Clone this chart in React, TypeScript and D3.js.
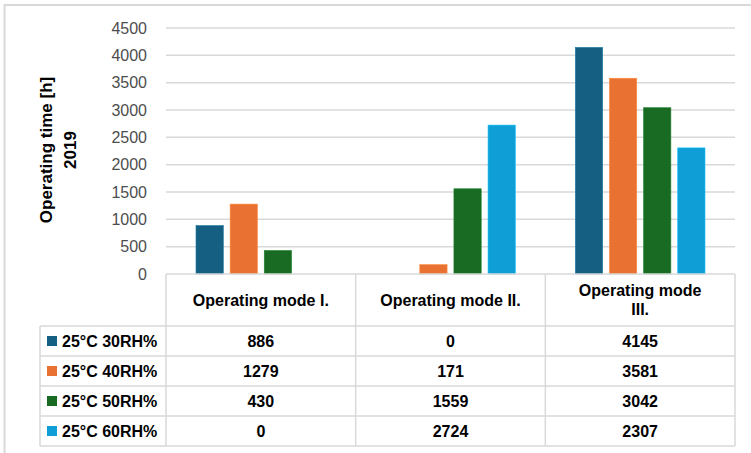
import React, { useEffect, useRef } from 'react'
import * as d3 from 'd3'

// chart data
const modes = ['Operating mode I.', 'Operating mode II.', 'Operating mode III.']
const modeLines = [['Operating mode I.'], ['Operating mode II.'], ['Operating mode', 'III.']]
const seriesNames = ['25°C 30RH%', '25°C 40RH%', '25°C 50RH%', '25°C 60RH%']
const rh30 = [886, 0, 4145]
const rh40 = [1279, 171, 3581]
const rh50 = [430, 1559, 3042]
const rh60 = [0, 2724, 2307]
const yTicks = [0, 500, 1000, 1500, 2000, 2500, 3000, 3500, 4000, 4500]
const colors = ['#156082', '#E97132', '#196B24', '#0F9ED5']

const App = () => {
  const svgRef = useRef<SVGSVGElement | null>(null)

  useEffect(() => {
    const W = 751
    const H = 453
    const plotLeft = 166
    const plotRight = 735
    const plotTop = 28
    const plotBottom = 274
    const legendLeft = 40
    const headerBottom = 326
    const rowH = 30
    const gridColor = '#d9d9d9'
    const font = '"Liberation Sans", Arial, sans-serif'

    const values = [rh30, rh40, rh50, rh60]

    const svg = d3.select(svgRef.current)
    svg.selectAll('*').remove()
    svg.attr('width', W).attr('height', H)

    svg
      .append('rect')
      .attr('width', W)
      .attr('height', H)
      .attr('fill', '#fff')

    // outer frame
    svg
      .append('rect')
      .attr('x', 4.5)
      .attr('y', 5)
      .attr('width', 800)
      .attr('height', 500)
      .attr('fill', 'none')
      .attr('stroke', gridColor)
      .attr('stroke-width', 2)

    // scales
    const xScale = d3.scaleBand().domain(modes).range([plotLeft, plotRight])
    const bw = xScale.bandwidth()
    const xInner = d3
      .scaleBand()
      .domain(seriesNames)
      .range([30, bw - 30])
      .paddingInner(0.2)
    const yScale = d3.scaleLinear().domain([0, 4500]).range([plotBottom, plotTop])

    // gridlines
    svg
      .append('g')
      .selectAll('line')
      .data(yTicks.filter((t) => t > 0))
      .enter()
      .append('line')
      .attr('x1', plotLeft)
      .attr('x2', plotRight)
      .attr('y1', (d) => yScale(d))
      .attr('y2', (d) => yScale(d))
      .attr('stroke', gridColor)
      .attr('stroke-width', 1.5)

    // y axis labels
    const yAxis = svg
      .append('g')
      .attr('transform', `translate(155,0)`)
      .call(d3.axisLeft(yScale).tickValues(yTicks).tickSize(0).tickPadding(8).tickFormat(d3.format('d')))
    yAxis.select('.domain').remove()
    yAxis
      .selectAll('text')
      .attr('font-family', font)
      .attr('font-size', 16)
      .attr('fill', '#4d4d4d')

    // bars
    seriesNames.forEach((name, si) => {
      svg
        .append('g')
        .selectAll('rect')
        .data(values[si])
        .enter()
        .append('rect')
        .attr('x', (d, i) => (xScale(modes[i]) as number) + (xInner(name) as number))
        .attr('y', (d) => yScale(d))
        .attr('width', xInner.bandwidth())
        .attr('height', (d) => plotBottom - yScale(d))
        .attr('fill', colors[si])
        .attr('stroke', d3.color(colors[si])!.brighter(0.6).toString())
        .attr('stroke-width', 0.6)
    })

    // y axis title
    const title = svg
      .append('text')
      .attr('transform', `translate(52,150) rotate(-90)`)
      .attr('text-anchor', 'middle')
      .attr('font-family', font)
      .attr('font-weight', 'bold')
      .attr('font-size', 17)
      .attr('fill', '#000')
    title.append('tspan').attr('x', 0).attr('y', 0).text('Operating time [h]')
    title.append('tspan').attr('x', 0).attr('y', 24).text('2019')

    // data table
    const table = svg.append('g').attr('stroke', gridColor).attr('stroke-width', 1.5)
    const tableBottom = headerBottom + rowH * seriesNames.length
    table.append('line').attr('x1', plotLeft).attr('x2', plotRight).attr('y1', plotBottom).attr('y2', plotBottom)
    d3.range(seriesNames.length + 1).forEach((r) => {
      const y = headerBottom + r * rowH
      table.append('line').attr('x1', legendLeft).attr('x2', plotRight).attr('y1', y).attr('y2', y)
    })
    table.append('line').attr('x1', legendLeft).attr('x2', legendLeft).attr('y1', headerBottom).attr('y2', tableBottom)
    const colEdges = [plotLeft, ...modes.map((m) => (xScale(m) as number) + bw)]
    colEdges.forEach((x) => {
      table.append('line').attr('x1', x).attr('x2', x).attr('y1', plotBottom).attr('y2', tableBottom)
    })

    // header labels
    modes.forEach((m, i) => {
      const lines = modeLines[i]
      const cx = (xScale(m) as number) + bw / 2
      const cy = (plotBottom + headerBottom) / 2
      const lh = 19
      lines.forEach((ln, li) => {
        svg
          .append('text')
          .attr('x', cx)
          .attr('y', cy + (li - (lines.length - 1) / 2) * lh)
          .attr('dy', '0.35em')
          .attr('text-anchor', 'middle')
          .attr('font-family', font)
          .attr('font-weight', 'bold')
          .attr('font-size', 16)
          .attr('fill', '#000')
          .text(ln)
      })
    })

    // rows
    seriesNames.forEach((name, si) => {
      const cy = headerBottom + si * rowH + rowH / 2
      svg
        .append('rect')
        .attr('x', 47)
        .attr('y', cy - 5)
        .attr('width', 10)
        .attr('height', 10)
        .attr('fill', colors[si])
      svg
        .append('text')
        .attr('x', 62)
        .attr('y', cy)
        .attr('dy', '0.35em')
        .attr('font-family', font)
        .attr('font-weight', 'bold')
        .attr('font-size', 16)
        .attr('fill', '#000')
        .text(name)
      values[si].forEach((v, i) => {
        svg
          .append('text')
          .attr('x', (xScale(modes[i]) as number) + bw / 2)
          .attr('y', cy)
          .attr('dy', '0.35em')
          .attr('text-anchor', 'middle')
          .attr('font-family', font)
          .attr('font-weight', 'bold')
          .attr('font-size', 16)
          .attr('fill', '#000')
          .text(v)
      })
    })
  }, [])

  return <svg ref={svgRef} style={{ position: 'absolute', left: 0, top: 0 }}></svg>
}

export default App
